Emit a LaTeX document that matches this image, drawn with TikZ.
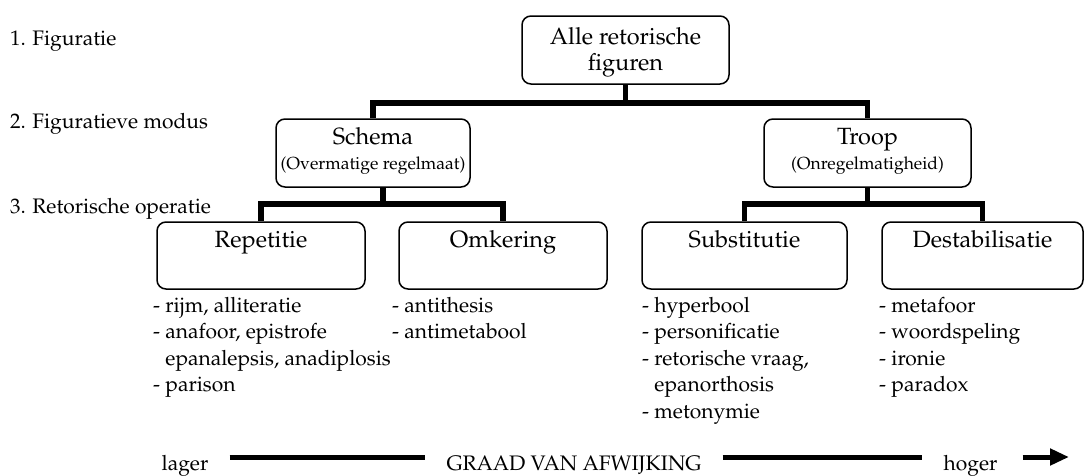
\documentclass[tikz,border=0pt]{standalone}
\usepackage[T1]{fontenc}
\renewcommand{\rmdefault}{ppl}
\usetikzlibrary{arrows.meta}
\begin{document}
\begin{tikzpicture}[x=1pt,y=-1pt,
  box/.style={draw, line width=1.5pt, rounded corners=9pt, inner sep=0pt, minimum height=67pt},
  conn/.style={line width=5.5pt},
  axisline/.style={line width=5pt},
  ttl/.style={font=\fontsize{23.5}{28}\selectfont, inner sep=0pt, anchor=base},
  subttl/.style={font=\fontsize{17.5}{21}\selectfont, inner sep=0pt, anchor=base},
  lvl/.style={font=\fontsize{21}{26.5}\selectfont, inner sep=0pt, anchor=base west},
  lst/.style={font=\fontsize{21}{26.5}\selectfont, inner sep=0pt, anchor=north west, align=left},
  axislbl/.style={font=\fontsize{21}{25}\selectfont, inner ysep=0pt, inner xsep=21pt, anchor=base}
]
\useasboundingbox (0,0) rectangle (1088,475);

% level labels
\node[lvl] (l1) at (10,45) {1. Figuratie};
\node[lvl] (l2) at (10,128) {2. Figuratieve modus};
\node[lvl] (l3) at (10,213) {3. Retorische operatie};

% boxes
\node[box, minimum width=207pt, minimum height=68pt] (alle) at (625.5,50) {};
\node[box, minimum width=194pt, minimum height=68pt] (schema) at (373,153) {};
\node[box, minimum width=207pt, minimum height=68pt] (troop) at (867.5,153) {};
\node[box, minimum width=208pt] (rep) at (261,255.5) {};
\node[box, minimum width=208pt] (omk) at (503,255.5) {};
\node[box, minimum width=205pt] (sub) at (744.5,255.5) {};
\node[box, minimum width=201pt] (dest) at (982.5,255.5) {};

% box texts
\node[ttl] (talle1) at ([yshift=-29pt]alle.north) {Alle retorische};
\node[ttl] (talle2) at ([yshift=-55pt]alle.north) {figuren};
\node[ttl] (tschema) at ([yshift=-26pt]schema.north) {Schema};
\node[subttl] (sschema) at ([yshift=-51pt]schema.north) {(Overmatige regelmaat)};
\node[ttl] (ttroop) at ([yshift=-26pt]troop.north) {Troop};
\node[subttl] (stroop) at ([yshift=-51pt]troop.north) {(Onregelmatigheid)};
\node[ttl] (trep) at ([yshift=-26pt]rep.north) {Repetitie};
\node[ttl] (tomk) at ([yshift=-26pt]omk.north) {Omkering};
\node[ttl] (tsub) at ([yshift=-26pt]sub.north) {Substitutie};
\node[ttl] (tdest) at ([yshift=-26pt]dest.north) {Destabilisatie};

% lists
\node[lst] (lrep) at (153,293.5) {\strut- rijm, alliteratie\\- anafoor, epistrofe\\\phantom{-\ }epanalepsis, anadiplosis\\- parison};
\node[lst] (lomk) at (392,293.5) {\strut- antithesis\\- antimetabool};
\node[lst] (lsub) at (642,293.5) {\strut- hyperbool\\- personificatie\\- retorische vraag,\\\phantom{-\ }epanorthosis\\- metonymie};
\node[lst] (ldest) at (879,293.5) {\strut- metafoor\\- woordspeling\\- ironie\\- paradox};

% connectors
\coordinate (ss) at ([xshift=10pt]schema.south);
\draw[conn] (alle.south) -- (alle.south |- 0,103);
\draw[conn] (schema.north) |- (alle.south |- 0,103) -| (troop.north);
\draw[conn] (ss) -- (ss |- 0,204);
\draw[conn] (rep.north) |- (ss |- 0,204) -| (omk.north);
\draw[conn] (troop.south) -- (troop.south |- 0,204);
\draw[conn] (sub.north) |- (troop.south |- 0,204) -| (dest.north);

% axis
\node[axislbl] (lager) at (185,470) {lager};
\node[axislbl] (graad) at (574,470) {GRAAD VAN AFWIJKING};
\node[axislbl] (hoger) at (970.5,470) {hoger};
\coordinate (pijl) at (1069,457);
\draw[axisline] ([yshift=13pt]lager.base east) -- ([yshift=13pt]graad.base west);
\draw[axisline] ([yshift=13pt]graad.base east) -- ([yshift=13pt]hoger.base west);
\draw[axisline, -{Triangle[length=19pt,width=16pt]}, shorten <=4pt] ([yshift=13pt]hoger.base east) -- (pijl);
\end{tikzpicture}
\end{document}
